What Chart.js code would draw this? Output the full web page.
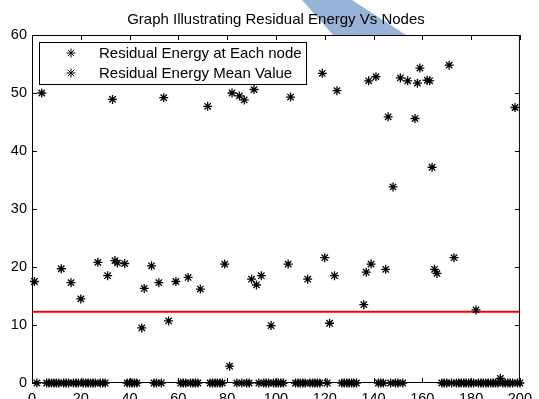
<!DOCTYPE html>
<html>
<head>
<meta charset="utf-8">
<script src="https://cdn.jsdelivr.net/npm/chart.js@4.4.1/dist/chart.umd.min.js"></script>
<style>
  html, body { margin: 0; padding: 0; background: #fff; }
  #wrap { width: 539px; height: 399px; position: relative; }
</style>
</head>
<body>
<div id="wrap"><canvas id="energyChart"></canvas></div>
<script>
// residual energy per node (node 1..200), null = no reading plotted
const residualEnergy = [
  17.5, 0, null, 50.0, null, 0, 0, 0, 0, 0,
  0, 19.7, 0, 0, 0, 17.3, 0, 0, 0, 14.5,
  0, 0, 0, 0, 0, 0, 20.8, 0, 0, 0,
  18.5, null, 48.9, 21.1, 20.7, null, null, 20.6, 0, 0,
  0, 0, 0, null, 9.5, 16.3, null, null, 20.2, 0,
  0, 17.3, 0, 49.2, null, 10.7, null, null, 17.5, null,
  0, 0, 0, 18.2, 0, 0, 0, 0, 16.2, null,
  null, 47.7, 0, 0, 0, 0, 0, 0, 20.5, null,
  2.9, 50.0, null, 0, 49.5, 0, 48.8, 0, 0, 17.9,
  50.6, 16.9, 0, 18.5, 0, 0, 0, 9.9, 0, 0,
  0, 0, 0, null, 20.5, 49.3, null, 0, 0, 0,
  0, 0, 17.9, 0, 0, 0, 0, 0, 53.4, 21.6,
  0, 10.3, null, 18.5, 50.4, null, 0, 0, 0, 0,
  0, 0, 0, null, null, 13.5, 19.1, 52.1, 20.5, null,
  52.8, 0, 0, 0, 19.6, 45.9, 0, 33.8, 0, 0,
  52.6, 0, null, 52.1, null, null, 45.6, 51.7, 54.3, null,
  null, 52.2, 52.1, 37.2, 19.6, 18.9, null, 0, 0, 0,
  54.8, 0, 21.6, 0, 0, 0, 0, 0, 0, 0,
  0, 12.6, 0, 0, 0, 0, 0, 0, 0, 0,
  0, 0.8, 0, 0, 0, 0, 0, 47.5, 0, 0
];
const meanEnergy = 12.3;

const xTicks = [0, 20, 40, 60, 80, 100, 120, 140, 160, 180, 200];
const yTicks = [0, 10, 20, 30, 40, 50, 60];

const titleText = 'Graph Illustrating Residual Energy Vs Nodes';
const legendLabels = ['Residual Energy at Each node', 'Residual Energy Mean Value'];

const FONT = '"Liberation Sans", Arial, Helvetica, sans-serif';

const points = [];
residualEnergy.forEach((v, i) => {
  if (v !== null) points.push({ x: i + 1, y: v });
});

// frame, inward ticks, title, legend and the blue banner strip
const matlabFrame = {
  id: 'matlabFrame',
  beforeDraw(chart) {
    const ctx = chart.ctx;
    ctx.save();
    ctx.fillStyle = '#97b4d8';
    ctx.beginPath();
    ctx.moveTo(302, 0);
    ctx.lineTo(352, 0);
    ctx.lineTo(406, 35);
    ctx.lineTo(333, 35);
    ctx.closePath();
    ctx.fill();
    ctx.restore();
  },
  afterDraw(chart) {
    const { ctx, chartArea: a, scales } = chart;
    ctx.save();
    ctx.strokeStyle = '#000';
    ctx.lineWidth = 1;
    ctx.strokeRect(a.left + 0.5, a.top + 0.5, a.right - a.left - 1, a.bottom - a.top - 1);

    const tl = 5;
    ctx.beginPath();
    xTicks.forEach(t => {
      const px = Math.round(scales.x.getPixelForValue(t)) + 0.5;
      ctx.moveTo(px, a.bottom); ctx.lineTo(px, a.bottom - tl);
      ctx.moveTo(px, a.top); ctx.lineTo(px, a.top + tl);
    });
    yTicks.forEach(t => {
      const py = Math.round(scales.y.getPixelForValue(t)) + 0.5;
      ctx.moveTo(a.left, py); ctx.lineTo(a.left + tl, py);
      ctx.moveTo(a.right, py); ctx.lineTo(a.right - tl, py);
    });
    ctx.stroke();

    // title
    ctx.fillStyle = '#000';
    ctx.font = '15px ' + FONT;
    ctx.textAlign = 'center';
    ctx.textBaseline = 'middle';
    ctx.fillText(titleText, (a.left + a.right) / 2, 20);

    // legend
    ctx.fillStyle = '#fff';
    ctx.fillRect(39, 42, 267, 42);
    ctx.strokeRect(39.5, 42.5, 267, 42);
    ctx.font = '15px ' + FONT;
    ctx.textAlign = 'left';
    const rows = [53, 73];
    legendLabels.forEach((txt, i) => {
      ctx.fillStyle = '#000';
      ctx.fillText(txt, 99, rows[i] + 0.5);
      Chart.helpers.drawPoint(ctx, {
        pointStyle: 'star', radius: 4.5, borderWidth: 1.3
      }, 71, rows[i]);
    });
    ctx.restore();
  }
};

new Chart(document.getElementById('energyChart'), {
  type: 'scatter',
  data: {
    datasets: [
      {
        label: legendLabels[0],
        data: points,
        pointStyle: 'star',
        pointRadius: 4.5,
        pointBorderWidth: 1.3,
        borderColor: '#000',
        backgroundColor: '#000',
        showLine: false,
        clip: false
      },
      {
        label: legendLabels[1],
        data: [{ x: 0, y: meanEnergy }, { x: 200, y: meanEnergy }],
        showLine: true,
        borderColor: '#ff0000',
        borderWidth: 2,
        pointRadius: 0
      }
    ]
  },
  options: {
    responsive: true,
    maintainAspectRatio: false,
    animation: false,
    layout: { padding: { left: 0, right: 13, top: 35, bottom: 0 } },
    plugins: {
      legend: { display: false },
      title: { display: false },
      tooltip: { enabled: false }
    },
    scales: {
      x: {
        type: 'linear',
        min: 0,
        max: 200,
        afterFit(scale) { scale.height = 16; },
        afterBuildTicks(scale) { scale.ticks = xTicks.map(v => ({ value: v })); },
        grid: { display: false, drawTicks: false },
        border: { display: false },
        ticks: { color: '#000', padding: 7, maxRotation: 0, font: { size: 14.5, family: FONT } }
      },
      y: {
        type: 'linear',
        min: 0,
        max: 60,
        afterFit(scale) { scale.width = 32; },
        afterBuildTicks(scale) { scale.ticks = yTicks.map(v => ({ value: v })); },
        grid: { display: false, drawTicks: false },
        border: { display: false },
        ticks: { color: '#000', padding: 5, font: { size: 14.5, family: FONT } }
      }
    }
  },
  plugins: [matlabFrame]
});
</script>
</body>
</html>
